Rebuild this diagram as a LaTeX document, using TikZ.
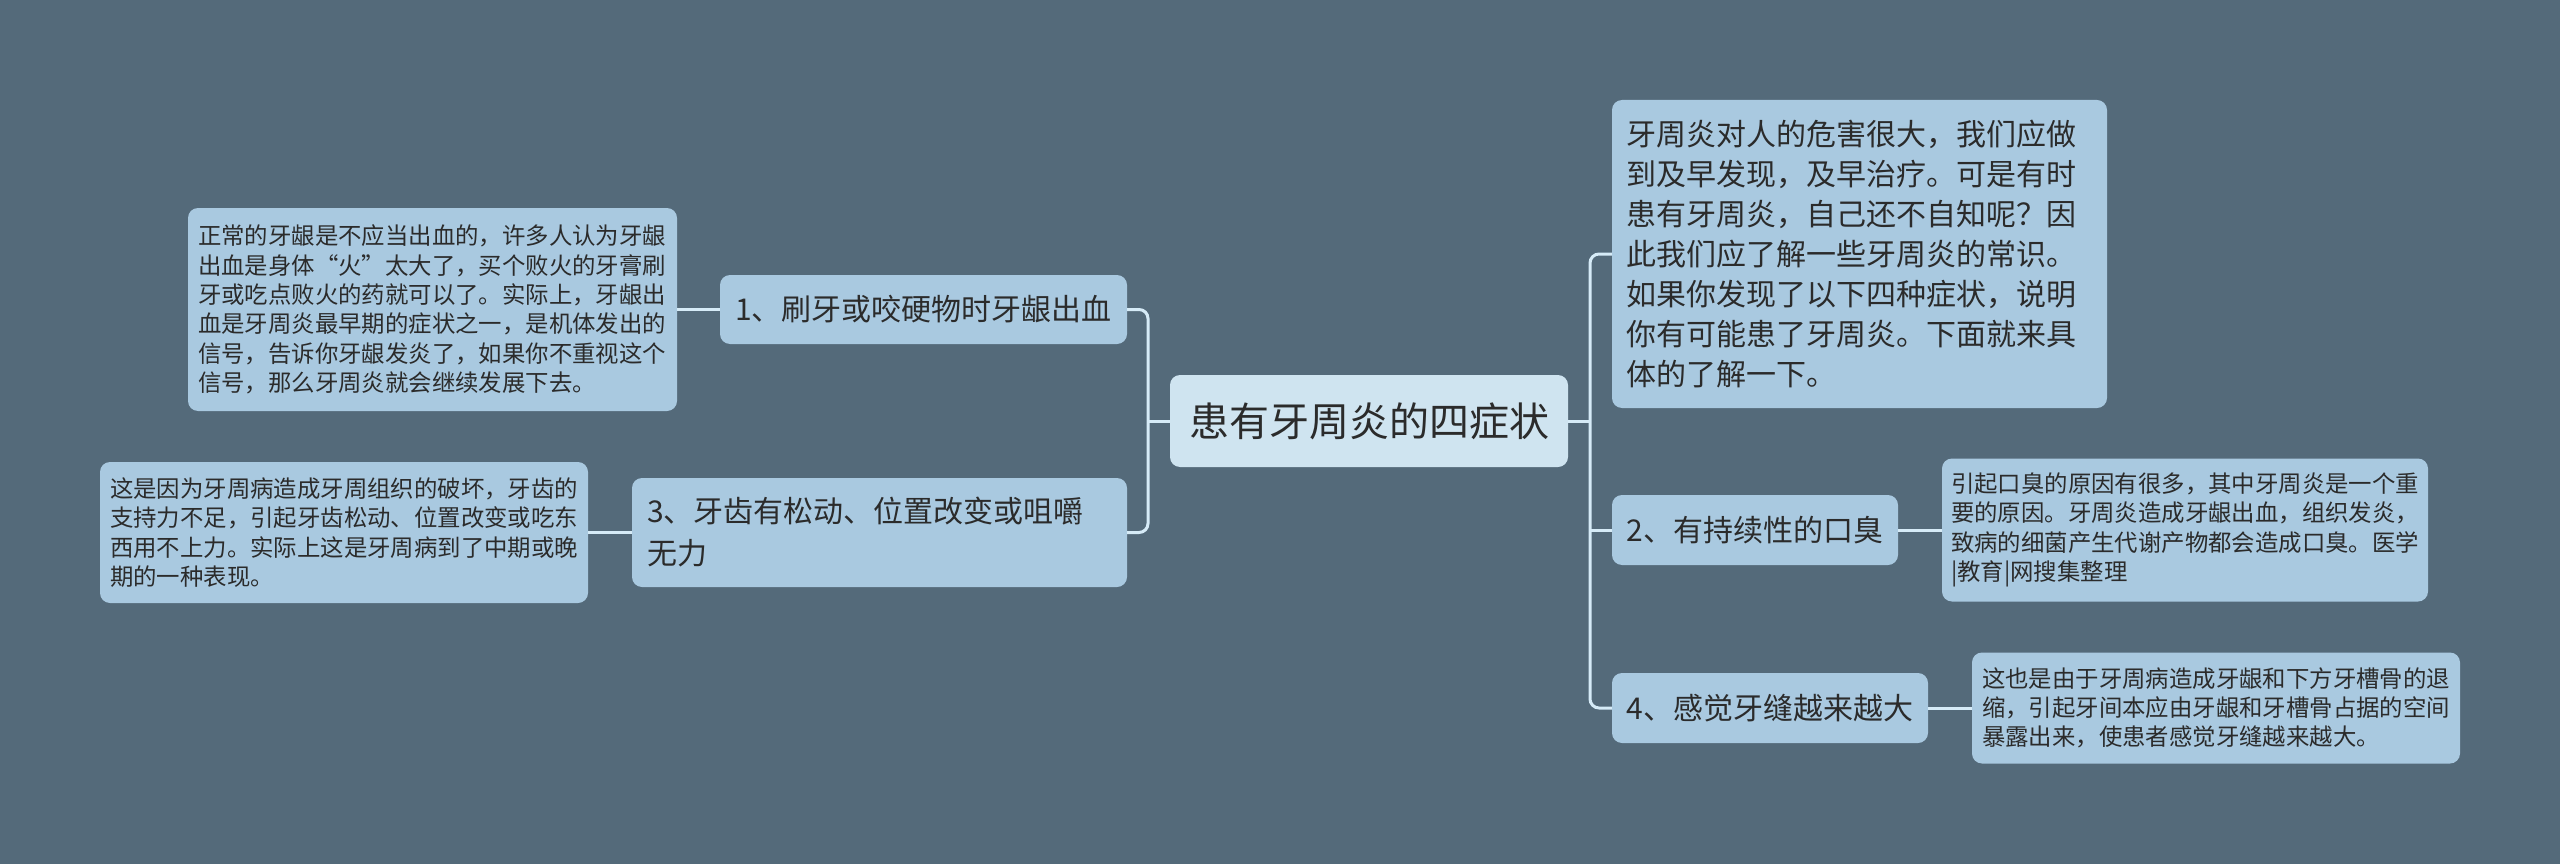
\documentclass[tikz,border=0pt]{standalone}
\usepackage{fontspec}
\setmainfont{Noto Sans CJK SC}
\usepackage{tikz}
\usetikzlibrary{positioning,calc}
\definecolor{mapbg}{HTML}{546A7A}
\definecolor{topicfill}{HTML}{A9C9E0}
\definecolor{rootfill}{HTML}{CFE4F0}
\definecolor{linkline}{HTML}{D6EBF7}
\definecolor{inkdark}{HTML}{2B2B2B}
\tikzset{
  mm/.style={rounded corners=10pt, fill=topicfill, text=inkdark, inner sep=0pt, align=left},
  mm root/.style={mm, fill=rootfill, font=\fontsize{40}{48}\selectfont},
  mm topic/.style={mm, font=\fontsize{30}{42}\selectfont},
  mm note/.style={mm, font=\fontsize{23.4}{29.3}\selectfont},
  mm intro/.style={mm, font=\fontsize{30}{40}\selectfont},
  mm link/.style={draw=linkline, line width=3pt},
}
\begin{document}
\begin{tikzpicture}[x=1pt, y=-1pt]
  \useasboundingbox (0,0) rectangle (2560,864);
  \fill[mapbg] (0,0) rectangle (2560,864);
  % centre
  \node[mm root, minimum width=398, minimum height=92] (root) at (1369,421) {患有牙周炎的四症状};
  % left branch
  \node[mm topic, minimum width=407, minimum height=69] (t1) at (923.5,309.5) {1、刷牙或咬硬物时牙龈出血};
  \node[mm topic, minimum width=495, minimum height=109, text width=465] (t3) at (879.5,532.5) {3、牙齿有松动、位置改变或咀嚼\\无力};
  \node[mm note, minimum width=489, minimum height=203, text width=469] (n1) at (432.5,309.5) {正常的牙龈是不应当出血的，许多人认为牙龈\\出血是身体“火”太大了，买个败火的牙膏刷\\牙或吃点败火的药就可以了。实际上，牙龈出\\血是牙周炎最早期的症状之一，是机体发出的\\信号，告诉你牙龈发炎了，如果你不重视这个\\信号，那么牙周炎就会继续发展下去。};
  \node[mm note, minimum width=488, minimum height=141, text width=468] (n3) at (344,532.5) {这是因为牙周病造成牙周组织的破坏，牙齿的\\支持力不足，引起牙齿松动、位置改变或吃东\\西用不上力。实际上这是牙周病到了中期或晚\\期的一种表现。};
  % right branch
  \node[mm intro, minimum width=495, minimum height=308, text width=467] (intro) at (1859.5,254) {牙周炎对人的危害很大，我们应做\\到及早发现，及早治疗。可是有时\\患有牙周炎，自己还不自知呢？因\\此我们应了解一些牙周炎的常识。\\如果你发现了以下四种症状，说明\\你有可能患了牙周炎。下面就来具\\体的了解一下。};
  \node[mm topic, minimum width=286, minimum height=70] (t2) at (1755,530) {2、有持续性的口臭};
  \node[mm topic, minimum width=316, minimum height=70] (t4) at (1770,708) {4、感觉牙缝越来越大};
  \node[mm note, minimum width=486, minimum height=143, text width=468] (n2) at (2185,530) {引起口臭的原因有很多，其中牙周炎是一个重\\要的原因。牙周炎造成牙龈出血，组织发炎，\\致病的细菌产生代谢产物都会造成口臭。医学\\|教育|网搜集整理};
  \node[mm note, minimum width=488, minimum height=111, text width=468] (n4) at (2216,708) {这也是由于牙周病造成牙龈和下方牙槽骨的退\\缩，引起牙间本应由牙龈和牙槽骨占据的空间\\暴露出来，使患者感觉牙缝越来越大。};
  % connectors
  \coordinate (lbus) at (1148,421);
  \coordinate (rbus) at (1590,421);
  \draw[mm link] (root.west) -- (lbus);
  \draw[mm link] (root.east) -- (rbus);
  \draw[mm link, rounded corners=9pt] (t1.east) -| (lbus) |- (t3.east);
  \draw[mm link, rounded corners=9pt] (intro.west) -| (rbus) |- (t4.west);
  \draw[mm link] (rbus |- t2.west) -- (t2.west);
  \foreach \a/\b in {t1/n1, t3/n3} \draw[mm link] (\a.west) -- (\b.east);
  \foreach \a/\b in {t2/n2, t4/n4} \draw[mm link] (\a.east) -- (\b.west);
\end{tikzpicture}
\end{document}
